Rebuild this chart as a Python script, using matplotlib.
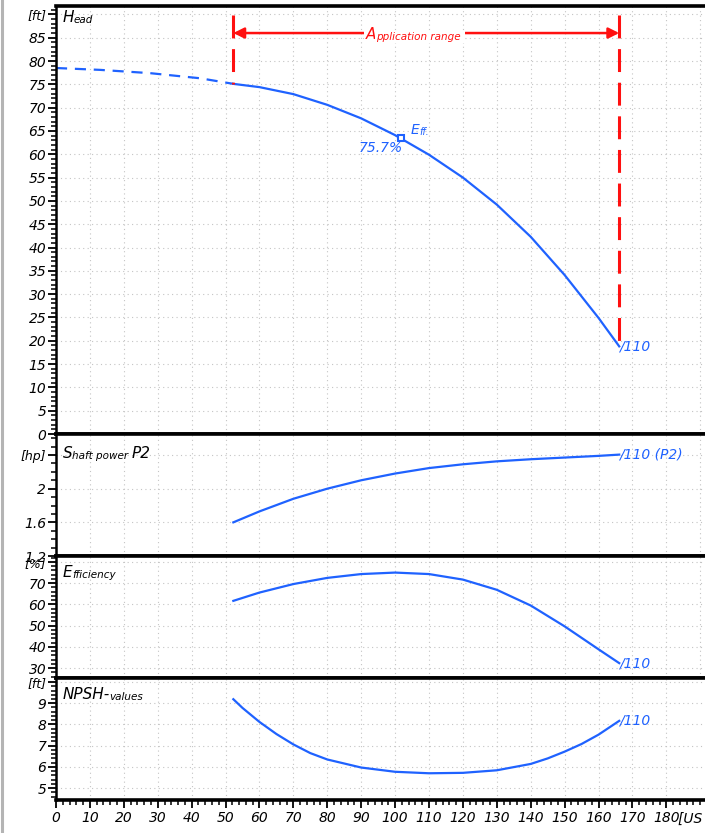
import numpy as np
import matplotlib
matplotlib.use("Agg")
import matplotlib.pyplot as plt
from matplotlib.lines import Line2D
from matplotlib.ticker import MultipleLocator, FixedLocator, FixedFormatter

plt.rcParams['font.family'] = ['DejaVu Sans']
plt.rcParams['font.style'] = 'italic'

# ---- data (flow in US g.p.m.) ----
head_q_ext = [0, 13, 27.7, 42.5, 52.3]
head_h_ext = [78.5, 78.1, 77.4, 76.3, 75.1]
head_q = [52.3, 60, 70, 80, 90, 100, 110, 120, 130, 140, 150, 160, 166.1]
head_h = [75.1, 74.4, 72.9, 70.6, 67.7, 64.1, 59.9, 55.0, 49.2, 42.3, 34.1, 24.9, 18.8]

power_q = [52.3, 60, 70, 80, 90, 100, 110, 120, 130, 140, 150, 160, 166.1]
power_p = [1.60, 1.73, 1.88, 2.00, 2.10, 2.18, 2.245, 2.29, 2.325, 2.35, 2.37, 2.39, 2.405]

eff_q = [52.3, 60, 70, 80, 90, 100, 110, 120, 130, 140, 150, 160, 166.1]
eff_e = [61.7, 65.6, 69.6, 72.5, 74.3, 75.0, 74.3, 71.7, 66.9, 59.5, 49.7, 38.9, 32.4]

npsh_q = [52.3, 55, 60, 65, 70, 75, 80, 90, 100, 110, 120, 130, 140, 145, 150, 155, 160, 166.1]
npsh_h = [9.19, 8.78, 8.12, 7.55, 7.06, 6.65, 6.35, 5.97, 5.77, 5.70, 5.72, 5.84, 6.14,
          6.40, 6.72, 7.08, 7.52, 8.17]

bep_q, bep_h, bep_eff = 101.8, 63.4, "75.7%"
app_range = [52.3, 166.1]
app_top = 89.9
arrow_y = 86.0

head_ticks = list(range(0, 91, 5))
head_labels = [str(v) for v in range(0, 90, 5)] + ['[ft]']
power_ticks = [1.2, 1.6, 2.0, 2.4]
power_labels = ['1.2', '1.6', '2', '[hp]']
eff_ticks = [30, 40, 50, 60, 70, 80]
eff_labels = ['30', '40', '50', '60', '70', '[%]']
npsh_ticks = [5, 6, 7, 8, 9, 10]
npsh_labels = ['5', '6', '7', '8', '9', '[ft]']
x_ticks = list(range(0, 181, 10))

blue = '#1f62ff'
red = '#ff1010'

W, H = 705, 833
fig = plt.figure(figsize=(W / 100, H / 100), dpi=100)


def rect(top, bot):
    return [56 / W, 1 - bot / H, 1 - 56 / W, (bot - top) / H]


ax_head = fig.add_axes(rect(6, 434))
ax_pow = fig.add_axes(rect(434, 556))
ax_eff = fig.add_axes(rect(556, 678))
ax_npsh = fig.add_axes(rect(678, 800))

setup = [
    (ax_head, (0, 91.8), head_ticks, head_labels, 1),
    (ax_pow, (1.2, 2.65), power_ticks, power_labels, 0.1),
    (ax_eff, (25.4, 82.8), eff_ticks, eff_labels, 2),
    (ax_npsh, (4.44, 10.19), npsh_ticks, npsh_labels, 0.2),
]
for ax, ylim, ticks, labels, minor in setup:
    ax.set_xlim(0, 191.4)
    ax.set_ylim(*ylim)
    ax.yaxis.set_major_locator(FixedLocator(ticks))
    ax.yaxis.set_major_formatter(FixedFormatter(labels))
    ax.yaxis.set_minor_locator(MultipleLocator(minor))
    ax.xaxis.set_major_locator(MultipleLocator(10))
    ax.xaxis.set_minor_locator(MultipleLocator(2))
    ax.spines['right'].set_visible(False)
    for s in ['top', 'bottom']:
        ax.spines[s].set_linewidth(2.6)
    ax.spines['left'].set_linewidth(1.8)
    ax.tick_params(axis='y', which='major', direction='out', length=6, width=1.3,
                   labelsize=10, pad=1)
    ax.tick_params(axis='y', which='minor', direction='out', length=3.5, width=1.1)
    ax.tick_params(axis='x', which='both', bottom=False, labelbottom=False)
    ax.grid(True, which='major', color='#c4c4c4', linestyle=(0, (1, 3)), linewidth=0.8)
    ax.set_axisbelow(True)
    ax.get_yticklabels()[-1].set_fontsize(9)

ax_npsh.set_xticks(x_ticks)
ax_npsh.tick_params(axis='x', which='major', bottom=True, labelbottom=True,
                    direction='out', length=6, width=1.3, labelsize=10, pad=2)
ax_npsh.tick_params(axis='x', which='minor', bottom=True, direction='out',
                    length=3.5, width=1.1)
ax_npsh.text(183.5, -0.095, '[US g.p.m.]', transform=ax_npsh.get_xaxis_transform(),
             ha='left', va='top', fontsize=10, clip_on=False)


def mixed(ax, x, y, parts, color='black', transform=None, **kw):
    """Write text pieces of different size one after another."""
    size, s = parts[0]
    prev = ax.text(x, y, s, fontsize=size, color=color, ha='left', va='bottom',
                   transform=transform or ax.transAxes, **kw)
    for size, s in parts[1:]:
        prev = ax.annotate(s, xy=(1, 0), xycoords=prev, fontsize=size, color=color,
                           ha='left', va='bottom', **kw)
    return prev


# panel titles
mixed(ax_head, 0.01, 0.955, [(11, 'H'), (7.5, 'ead')])
mixed(ax_pow, 0.01, 0.78, [(11, 'S'), (7.5, 'haft power '), (11, 'P2')])
mixed(ax_eff, 0.01, 0.80, [(11, 'E'), (7.5, 'fficiency')])
mixed(ax_npsh, 0.01, 0.80, [(11, 'NPSH-'), (7.5, 'values')])

# curves
ax_head.plot(head_q_ext, head_h_ext, color=blue, lw=1.6, dashes=(5, 3.5))
ax_head.plot(head_q, head_h, color=blue, lw=1.6)
ax_pow.plot(power_q, power_p, color=blue, lw=1.6)
ax_eff.plot(eff_q, eff_e, color=blue, lw=1.6)
ax_npsh.plot(npsh_q, npsh_h, color=blue, lw=1.6)

# curve end labels
ax_head.text(head_q[-1], head_h[-1], '/110', color=blue, fontsize=10, ha='left', va='center')
ax_pow.text(power_q[-1], power_p[-1], '/110 (P2)', color=blue, fontsize=10, ha='left', va='center')
ax_eff.text(eff_q[-1], eff_e[-1], '/110', color=blue, fontsize=10, ha='left', va='center')
ax_npsh.text(npsh_q[-1], npsh_h[-1], '/110', color=blue, fontsize=10, ha='left', va='center')

# best efficiency point
ax_head.plot([bep_q], [bep_h], marker='s', ms=5, mfc='white', mec=blue, mew=1.5, color=blue)
mixed(ax_head, bep_q + 2.8, bep_h + 0.4, [(10, 'E'), (7, 'ff.')], color=blue,
      transform=ax_head.transData)
ax_head.text(bep_q + 0.6, bep_h - 0.6, bep_eff, color=blue, fontsize=10, ha='right', va='top')

# application range
ax_head.plot([app_range[0]] * 2, [app_top, head_h[0]], color=red, lw=2.2, dashes=(7.5, 3.5))
ax_head.plot([app_range[1]] * 2, [app_top, head_h[-1]], color=red, lw=2.2, dashes=(7.5, 3.5))
ax_head.annotate('', xy=(app_range[0], arrow_y), xytext=(app_range[1], arrow_y),
                 arrowprops=dict(arrowstyle='<|-|>', color=red, lw=1.8,
                                 mutation_scale=16, shrinkA=0, shrinkB=0))
box = dict(facecolor='white', edgecolor='none', pad=1.0)
mixed(ax_head, 91.3, arrow_y - 1.9, [(11, 'A'), (7.5, 'pplication range ')], color=red,
      transform=ax_head.transData, bbox=box)

# light grey border on the left
fig.add_artist(Line2D([2 / W, 2 / W], [0, 1], color='#b4b4b4', lw=2.2))

fig.savefig('out.png', dpi=100, facecolor='white')
